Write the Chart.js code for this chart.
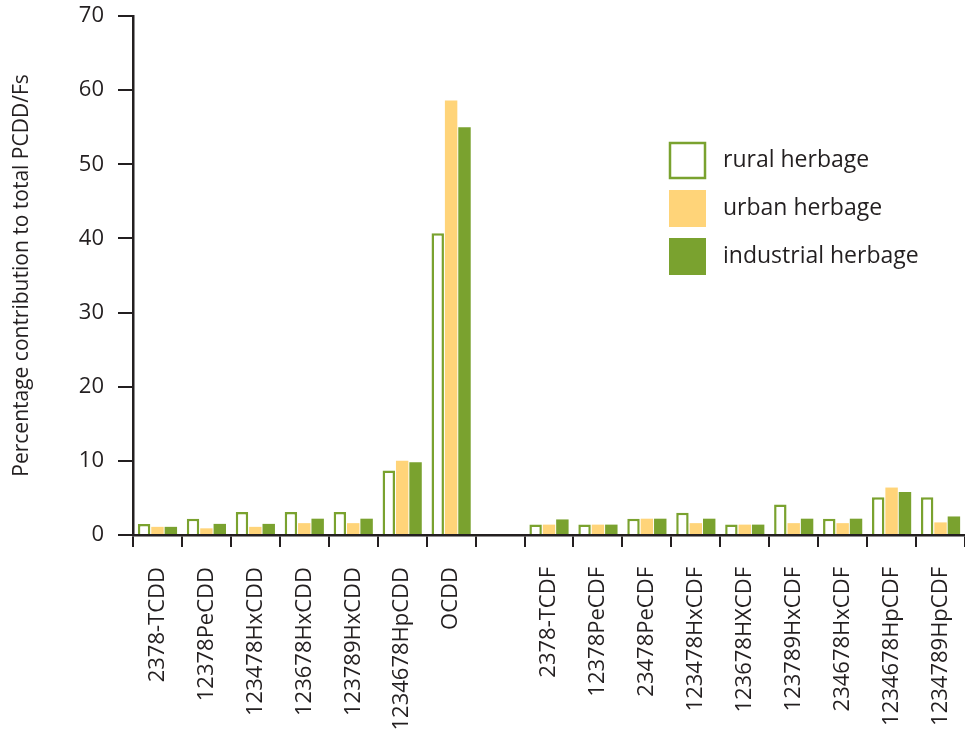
<!DOCTYPE html>
<html>
<head>
<meta charset="utf-8">
<title>PCDD/F congener profiles in herbage</title>
<script src="https://cdn.jsdelivr.net/npm/chart.js@4/dist/chart.umd.min.js"></script>
<style>
    html, body { margin: 0; padding: 0; background: #fff; }
    #congenerChart { display: block; }
</style>
</head>
<body>
<canvas id="congenerChart" width="965" height="731"></canvas>
<script>
// Congeners (empty slot separates the dioxins from the furans)
const congeners = [
    '2378-TCDD', '12378PeCDD', '123478HxCDD', '123678HxCDD', '123789HxCDD',
    '1234678HpCDD', 'OCDD', '',
    '2378-TCDF', '12378PeCDF', '23478PeCDF', '123478HxCDF', '123678HXCDF',
    '123789HxCDF', '234678HxCDF', '1234678HpCDF', '1234789HpCDF'
];

// Percentage contribution to total PCDD/Fs
const rural_herbage = [1.5, 2.2, 3.1, 3.1, 3.1, 8.7, 40.7, null, 1.4, 1.4, 2.2, 3.0, 1.4, 4.1, 2.2, 5.1, 5.1];
const urban_herbage = [1.1, 0.9, 1.1, 1.6, 1.6, 10.0, 58.6, null, 1.4, 1.4, 2.2, 1.6, 1.4, 1.6, 1.6, 6.4, 1.7];
const industrial_herbage = [1.1, 1.5, 1.5, 2.2, 2.2, 9.8, 55.0, null, 2.1, 1.4, 2.2, 2.2, 1.4, 2.2, 2.2, 5.8, 2.5];

const y_min = 0;
const y_max = 70;
const y_step = 10;

const colors = {
    green: '#7aa22f',
    yellow: '#ffd479',
    ink: '#231f20'
};

const font_family = '"Open Sans", "Noto Sans", sans-serif';

// Legend drawn as boxes in the upper right of the plot
const box_legend = {
    id: 'box_legend',
    afterDraw(chart, args, opts) {
        const ctx = chart.ctx;
        ctx.save();
        chart.data.datasets.forEach((ds, i) => {
            const x = opts.x;
            const y = opts.y + i * opts.row;
            ctx.fillStyle = ds.backgroundColor;
            ctx.fillRect(x, y, opts.box, opts.box);
            if (ds.borderWidth) {
                ctx.lineWidth = ds.borderWidth;
                ctx.strokeStyle = ds.borderColor;
                ctx.strokeRect(x + 1, y + 1, opts.box - 2, opts.box - 2);
            }
            ctx.fillStyle = colors.ink;
            ctx.font = '23px ' + font_family;
            ctx.textBaseline = 'middle';
            ctx.textAlign = 'left';
            ctx.fillText(ds.label, x + opts.box + 17, y + opts.box / 2);
        });
        ctx.restore();
    }
};

const ctx = document.getElementById('congenerChart').getContext('2d');

new Chart(ctx, {
    type: 'bar',
    data: {
        labels: congeners,
        datasets: [
            {
                label: 'rural herbage',
                data: rural_herbage,
                backgroundColor: '#ffffff',
                borderColor: colors.green,
                borderWidth: 2.5
            },
            {
                label: 'urban herbage',
                data: urban_herbage,
                backgroundColor: colors.yellow,
                borderWidth: 0
            },
            {
                label: 'industrial herbage',
                data: industrial_herbage,
                backgroundColor: colors.green,
                borderWidth: 0
            }
        ]
    },
    options: {
        responsive: false,
        animation: false,
        layout: {
            padding: { top: 16, right: 0, bottom: 0, left: 0 }
        },
        datasets: {
            bar: {
                categoryPercentage: 0.82,
                barPercentage: 0.93
            }
        },
        plugins: {
            legend: { display: false },
            tooltip: { enabled: false },
            box_legend: { x: 669, y: 142, row: 48, box: 37 }
        },
        scales: {
            x: {
                afterFit: (scale) => {
                    scale.height = 196;
                    scale.paddingLeft = 0;
                    scale.paddingRight = 0;
                },
                border: { color: colors.ink, width: 2.5 },
                grid: {
                    offset: true,
                    drawOnChartArea: false,
                    drawTicks: true,
                    tickLength: 12,
                    color: colors.ink,
                    lineWidth: 2
                },
                ticks: {
                    autoSkip: false,
                    maxRotation: 90,
                    minRotation: 90,
                    padding: 20,
                    color: colors.ink,
                    font: { family: font_family, size: 22 }
                }
            },
            y: {
                min: y_min,
                max: y_max,
                afterFit: (scale) => {
                    scale.width = 133;
                    scale.paddingTop = 0;
                    scale.paddingBottom = 0;
                },
                border: { color: colors.ink, width: 2.5 },
                grid: {
                    drawOnChartArea: false,
                    drawTicks: true,
                    tickLength: 15,
                    color: colors.ink,
                    lineWidth: 2
                },
                ticks: {
                    stepSize: y_step,
                    padding: 14,
                    color: colors.ink,
                    font: { family: font_family, size: 22 }
                },
                title: {
                    display: true,
                    text: 'Percentage contribution to total PCDD/Fs',
                    color: colors.ink,
                    padding: { top: 9, bottom: 0 },
                    font: { family: font_family, size: 21 }
                }
            }
        }
    },
    plugins: [box_legend]
});
</script>
</body>
</html>
